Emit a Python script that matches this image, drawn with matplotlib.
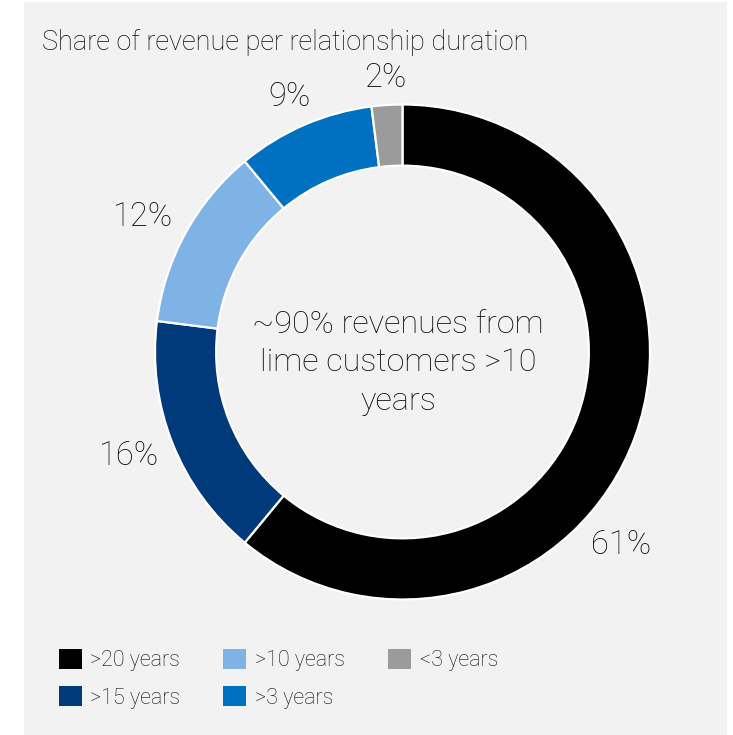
import matplotlib
matplotlib.use("Agg")
import matplotlib.pyplot as plt
from matplotlib.patches import Rectangle, Patch

plt.rcParams['font.family'] = ['Roboto', 'DejaVu Sans']

categories = [">20 years", ">15 years", ">10 years", ">3 years", "<3 years"]
shares = [61, 16, 12, 9, 2]
colors = ["#000000", "#003A7A", "#7FB3E6", "#0070C0", "#9B9B9B"]
title = "Share of revenue per relationship duration"
center_text = "~90% revenues from\nlime customers >10\nyears"

W, H = 733, 735
TXT = "#0D0D0D"
fig = plt.figure(figsize=(W / 100, H / 100), dpi=100)
fig.patch.set_facecolor("white")

# light grey panel behind everything
fig.patches.append(Rectangle((24 / W, 0), (727 - 24) / W, (H - 2) / H,
                             transform=fig.transFigure, facecolor="#F2F2F2",
                             edgecolor="none", zorder=-5))

# donut axes: centre (402.5, 352) px, outer radius 247.5 px
cx, cy, r = 402.5, 352, 247.5
ax = fig.add_axes([(cx - r) / W, (H - cy - r) / H, 2 * r / W, 2 * r / H])
ax.set_zorder(2)
ax.set_facecolor("none")
wedges, _ = ax.pie(shares, colors=colors, startangle=90, counterclock=False,
                   radius=1, wedgeprops=dict(width=0.247, edgecolor="white",
                                             linewidth=1.6))
ax.set_xlim(-1, 1)
ax.set_ylim(-1, 1)
ax.set_aspect("auto")
ax.axis("off")

# percentage labels, positioned in pixels around the ring
label_px = [(621, 545), (128, 456), (142, 217), (289, 97), (385, 78)]
for v, (px, py) in zip(shares, label_px):
    fig.text(px / W, 1 - py / H, f"{v}%", ha="center", va="center",
             fontsize=23.5, fontweight="light", color=TXT, zorder=3)

fig.text(398 / W, 1 - 363 / H, center_text, ha="center", va="center",
         fontsize=23.3, fontweight="light", color=TXT, linespacing=1.42,
         zorder=3)

fig.text(42 / W, 1 - 42 / H, title, ha="left", va="center",
         fontsize=19.5, fontweight="light", color=TXT, zorder=3)

handles = [Patch(facecolor=c, edgecolor="none") for c in colors]
fig.legend(handles, categories, ncol=3, loc="upper left",
           bbox_to_anchor=(50 / W, 1 - 640 / H), frameon=False,
           prop=dict(weight="light", size=15.5),
           handlelength=1.07, handleheight=1.07, handletextpad=0.4,
           columnspacing=2.0, labelspacing=0.7, borderaxespad=0,
           labelcolor=TXT)

fig.savefig("out.png", dpi=100, facecolor="white")
